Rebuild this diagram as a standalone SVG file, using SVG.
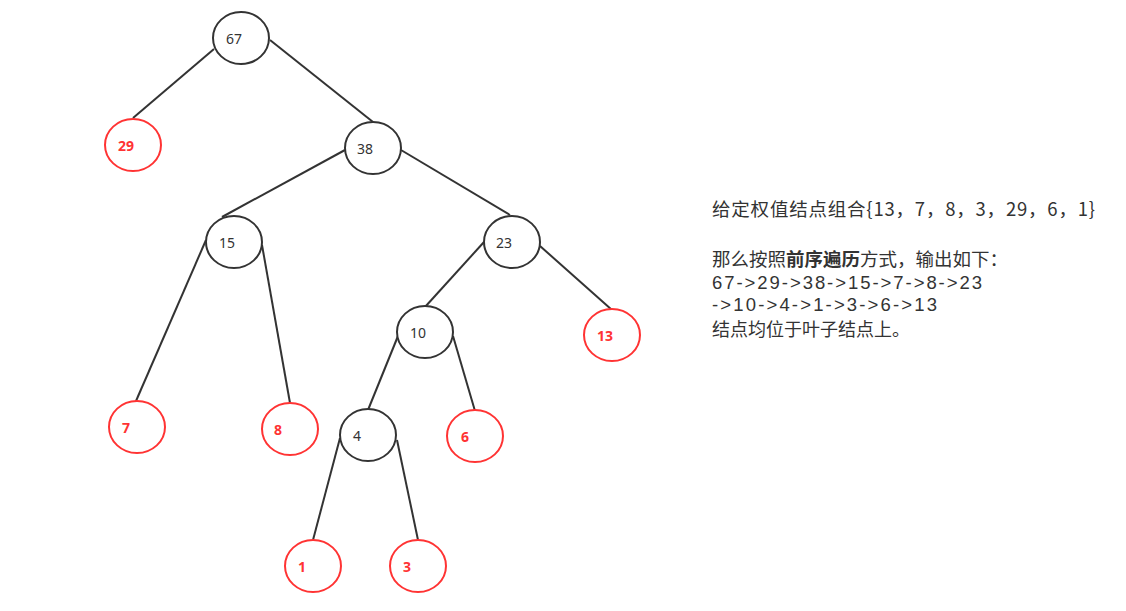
<svg xmlns="http://www.w3.org/2000/svg" width="1126" height="611" viewBox="0 0 1126 611">
<style>
.n{fill:#fff;stroke:#333;stroke-width:2}
.r{fill:#fff;stroke:#ff3333;stroke-width:2}
.t{font-family:"Noto Sans","Noto Sans CJK SC",sans-serif;font-size:14px;fill:#333;dominant-baseline:central}
.rt{font-family:"Noto Sans","Noto Sans CJK SC",sans-serif;font-size:14px;font-weight:bold;fill:#ff3333;dominant-baseline:central}
.e{stroke:#333;stroke-width:2;fill:none}
.d{font-family:"Noto Sans CJK SC","Noto Sans",sans-serif;font-size:18.5px;fill:#333}
.m{font-family:"Liberation Sans","Noto Sans",sans-serif;font-size:18.5px;fill:#333}
.b{font-weight:bold}
</style>
<rect width="1126" height="611" fill="#fff"/>
<g id="edges">
<line class="e" x1="214" y1="49" x2="133" y2="118"/>
<line class="e" x1="270" y1="40" x2="373" y2="122"/>
<line class="e" x1="345" y1="150" x2="222" y2="217"/>
<line class="e" x1="401" y1="150" x2="510" y2="215"/>
<line class="e" x1="206" y1="240" x2="136" y2="401"/>
<line class="e" x1="262" y1="245" x2="290" y2="403"/>
<line class="e" x1="484" y1="242" x2="425" y2="307"/>
<line class="e" x1="540" y1="246" x2="612" y2="310"/>
<line class="e" x1="398" y1="336" x2="368" y2="410"/>
<line class="e" x1="453" y1="336" x2="475" y2="411"/>
<line class="e" x1="340" y1="438" x2="313" y2="540"/>
<line class="e" x1="397" y1="440" x2="418" y2="540"/>
</g>
<g id="n67"><ellipse class="n" cx="241" cy="38" rx="28" ry="26"/><text class="t" x="226" y="38">67</text></g>
<g id="n29"><ellipse class="r" cx="133" cy="145" rx="28" ry="26"/><text class="rt" x="118" y="145">29</text></g>
<g id="n38"><ellipse class="n" cx="373" cy="148" rx="28" ry="26"/><text class="t" x="357" y="148">38</text></g>
<g id="n15"><ellipse class="n" cx="234" cy="242" rx="28" ry="26"/><text class="t" x="219" y="242">15</text></g>
<g id="n23"><ellipse class="n" cx="512" cy="242" rx="28" ry="26"/><text class="t" x="496" y="242">23</text></g>
<g id="n10"><ellipse class="n" cx="425" cy="332" rx="28" ry="26"/><text class="t" x="410" y="332">10</text></g>
<g id="n13"><ellipse class="r" cx="612" cy="335" rx="28" ry="26"/><text class="rt" x="597" y="335">13</text></g>
<g id="n7"><ellipse class="r" cx="137" cy="427" rx="28" ry="26"/><text class="rt" x="122" y="427">7</text></g>
<g id="n8"><ellipse class="r" cx="290" cy="429" rx="28" ry="26"/><text class="rt" x="274" y="429">8</text></g>
<g id="n4"><ellipse class="n" cx="368" cy="435" rx="28" ry="26"/><text class="t" x="353" y="435">4</text></g>
<g id="n6"><ellipse class="r" cx="475" cy="436" rx="28" ry="26"/><text class="rt" x="461" y="436">6</text></g>
<g id="n1"><ellipse class="r" cx="313" cy="566" rx="28" ry="26"/><text class="rt" x="298" y="566">1</text></g>
<g id="n3"><ellipse class="r" cx="418" cy="566" rx="28" ry="26"/><text class="rt" x="403" y="566">3</text></g>
<g id="desc">
<text class="d" x="712" y="216" textLength="383" lengthAdjust="spacing">给定权值结点组合{13，7，8，3，29，6，1}</text>
<text class="d" x="712" y="266">那么按照</text>
<text class="d b" x="786" y="266">前序遍历</text>
<text class="d" x="860" y="266">方式，输出如下：</text>
<text class="m" x="712" y="289" textLength="270" lengthAdjust="spacing">67-&gt;29-&gt;38-&gt;15-&gt;7-&gt;8-&gt;23</text>
<text class="m" x="712" y="311" textLength="225" lengthAdjust="spacing">-&gt;10-&gt;4-&gt;1-&gt;3-&gt;6-&gt;13</text>
<text class="d" x="712" y="336" style="font-size:18px">结点均位于叶子结点上。</text>
</g>
</svg>
